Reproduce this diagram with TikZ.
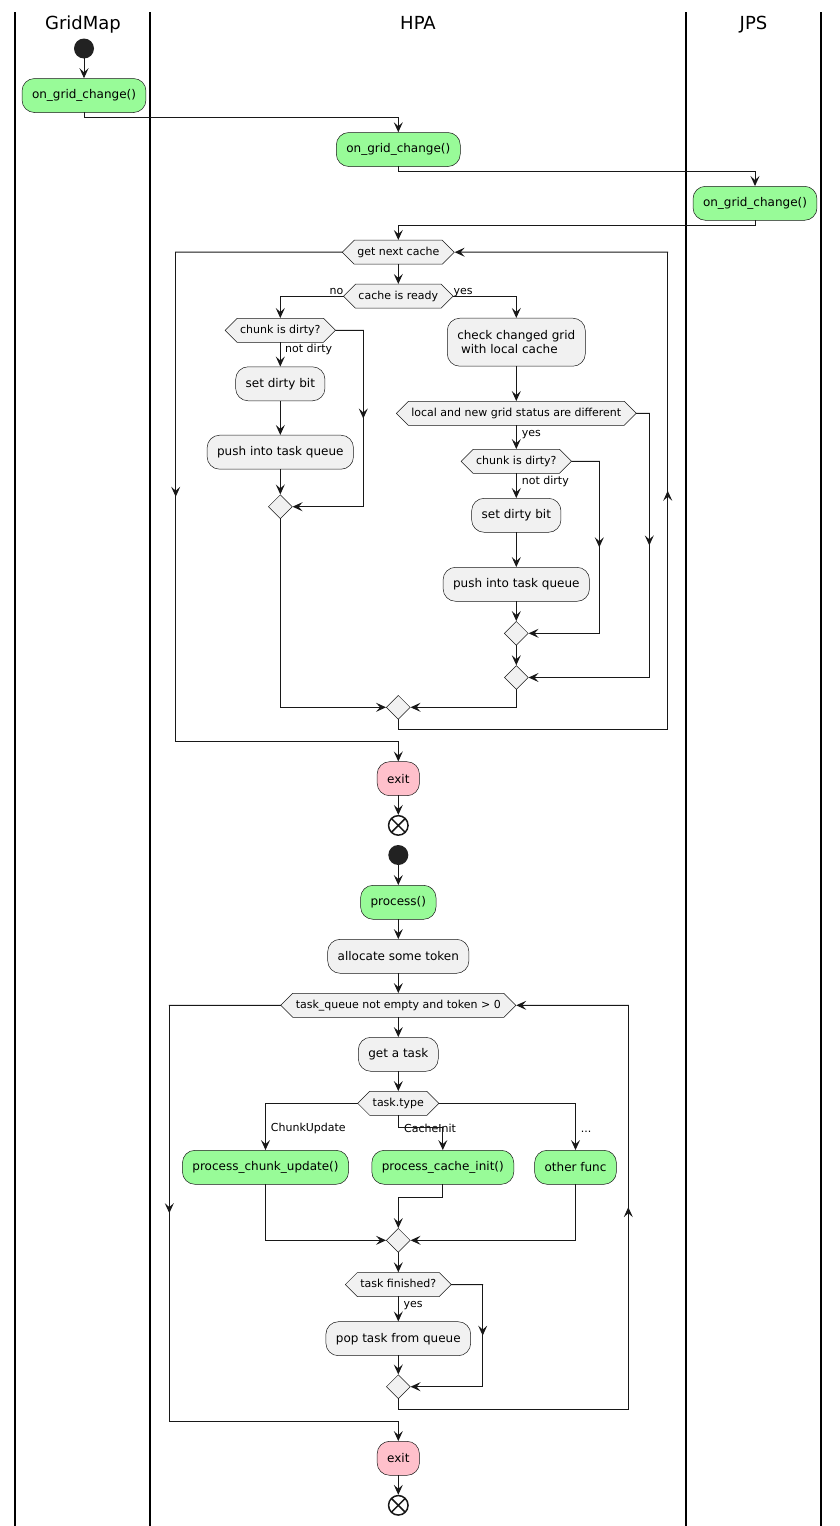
\documentclass[tikz,border=0pt]{standalone}
\usepackage{fontspec}
\setmainfont{DejaVu Sans}
\usetikzlibrary{arrows.meta,shapes.geometric,shapes.symbols,decorations.markings}
\definecolor{lc}{HTML}{181818}
\definecolor{actfill}{HTML}{F1F1F1}
\definecolor{callfill}{HTML}{98FB98}
\definecolor{exitfill}{HTML}{FFC0CB}
\definecolor{dotc}{HTML}{222222}
\begin{document}
\begin{tikzpicture}[x=1pt,y=-1pt,
  >={Stealth[length=10pt,width=9pt,inset=4pt]},
  wire/.style={color=lc, line width=1pt, line cap=rect},
  flow/.style={wire, ->},
  midarrow/.style={postaction={decorate,decoration={markings,mark=at position 0.5 with {\arrow{>}}}}},
  act/.style={draw=lc, line width=0.5pt, fill=actfill, rounded corners=12.5pt,
    minimum height=34pt, inner xsep=10pt, inner ysep=0pt, text=black,
    font=\fontsize{12}{14}\selectfont},
  call/.style={act, fill=callfill},
  quit/.style={act, fill=exitfill},
  hex/.style={shape=signal, signal to=east and west, signal pointer angle=90,
    draw=lc, line width=0.5pt, fill=actfill, inner xsep=3pt, inner ysep=6.5pt,
    text height=8.5pt, text depth=2.5pt, minimum height=24pt, text=black,
    font=\fontsize{11}{13}\selectfont},
  merge/.style={diamond, draw=lc, line width=0.5pt, fill=actfill, aspect=1,
    minimum width=24pt, minimum height=24pt, inner sep=0pt},
  startdot/.style={circle, fill=dotc, minimum size=20pt, inner sep=0pt},
  stopx/.style={circle, draw=lc, line width=1.5pt, fill=white, minimum size=19.5pt, inner sep=0pt,
    path picture={\draw[lc, line width=1.5pt]
      (path picture bounding box.north west) -- (path picture bounding box.south east)
      (path picture bounding box.north east) -- (path picture bounding box.south west);}},
  lbl/.style={font=\fontsize{11}{13}\selectfont, inner sep=0pt, text=black},
  lane/.style={font=\fontsize{18}{21}\selectfont, inner sep=0pt, anchor=base, text=black},
  laneline/.style={draw=black, line width=1.5pt}
]
% page
\fill[white] (0,0) rectangle (840,1526);
\useasboundingbox (0,0) rectangle (840,1526);

% swimlanes
\draw[laneline] (15,12) -- (15,1526);
\draw[laneline] (150,12) -- (150,1526);
\draw[laneline] (686,12) -- (686,1526);
\draw[laneline] (821,12) -- (821,1526);
\node[lane] (tgm) at (83,29.3) {GridMap};
\node[lane] (thpa) at (418,29.3) {HPA};
\node[lane] (tjps) at (753.5,29.3) {JPS};

% ---------- grid change propagation ----------
\node[startdot] (s1) at (84,48.5) {};
\node[call] (gm) at (84,95.5) {on\_grid\_change()};
\node[call] (hpa1) at (398.3,149.5) {on\_grid\_change()};
\node[call] (jps) at (755,203.3) {on\_grid\_change()};

\node[hex] (gnc) at (398.3,252.2) {get next cache};
\node[hex] (cir) at (398.3,296.2) {cache is ready};

% cache not ready
\node[hex] (cd1) at (280.3,330.3) {chunk is dirty?};
\node[act] (sdb1) at (280.3,383.8) {set dirty bit};
\node[act] (ptq1) at (280.3,452.2) {push into task queue};
\node[merge] (m1) at (280.3,506.7) {};

% cache ready
\node[act, minimum height=48pt, align=left] (chk) at (516.3,342.2)
  {check changed grid\\\hspace*{3.8pt}with local cache};
\node[hex] (loc) at (516.3,413.3) {local and new grid status are different};
\node[hex] (cd2) at (516.3,461.3) {chunk is dirty?};
\node[act] (sdb2) at (516.3,515.3) {set dirty bit};
\node[act] (ptq2) at (516.3,584.3) {push into task queue};
\node[merge] (m2) at (516.3,633.3) {};
\node[merge] (m3) at (516.3,677.5) {};

\node[merge] (mA) at (398.3,707.3) {};
\node[quit] (exit1) at (398.3,778.7) {exit};
\node[stopx] (end1) at (398.3,825.4) {};

% branch labels
\node[lbl, anchor=base east] (lno) at (343.5,294.3) {no};
\node[lbl, anchor=base west] (lyes1) at (453.5,294.3) {yes};
\node[lbl, anchor=base west] (lnd1) at (285,352.8) {not dirty};
\node[lbl, anchor=base west] (lyes2) at (521.7,436.5) {yes};
\node[lbl, anchor=base west] (lnd2) at (521.7,484.2) {not dirty};

% connectors
\draw[flow] (s1) -- (gm.north);
\draw[flow] (gm.south) -- ++(0,4.6) -| (hpa1.north);
\draw[flow] (hpa1.south) -- ++(0,4.6) -| (jps.north);
\draw[flow] (jps.south) -- ++(0,4.6) -| (gnc.north);
\draw[flow] (gnc.south) -- (cir.north);
\draw[flow] (cir.180) -| (cd1.north);
\draw[flow] (cir.0) -| (chk.north);
\draw[flow] (cd1.south) -- (sdb1.north);
\draw[flow] (sdb1.south) -- (ptq1.north);
\draw[flow] (ptq1.south) -- (m1.north);
\coordinate (K1a) at (363.3,330.3);
\coordinate (K1b) at (363.3,506.7);
\draw[wire] (cd1.0) -- (K1a);
\draw[wire, midarrow] (K1a) -- (K1b);
\draw[flow] (K1b) -- (m1.0);
\draw[flow] (m1.south) |- (mA.180);

\draw[flow] (chk.south) -- (loc.north);
\draw[flow] (loc.south) -- (cd2.north);
\draw[flow] (cd2.south) -- (sdb2.north);
\draw[flow] (sdb2.south) -- (ptq2.north);
\draw[flow] (ptq2.south) -- (m2.north);
\draw[flow] (m2.south) -- (m3.north);
\coordinate (K2a) at (599.3,461.3);
\coordinate (K2b) at (599.3,633.3);
\draw[wire] (cd2.0) -- (K2a);
\draw[wire, midarrow] (K2a) -- (K2b);
\draw[flow] (K2b) -- (m2.0);
\coordinate (K3a) at (649.3,413.3);
\coordinate (K3b) at (649.3,677.5);
\draw[wire] (loc.0) -- (K3a);
\draw[wire, midarrow] (K3a) -- (K3b);
\draw[flow] (K3b) -- (m3.0);
\draw[flow] (m3.south) |- (mA.0);

% loop back and loop exit
\coordinate (R1a) at (667.7,729.3);
\coordinate (R1b) at (667.7,252.2);
\draw[wire] (mA.south) |- (R1a);
\draw[wire, midarrow] (R1a) -- (R1b);
\draw[flow] (R1b) -- (gnc.0);
\coordinate (L1a) at (175.7,252.2);
\coordinate (L1b) at (175.7,741.3);
\draw[wire] (gnc.180) -- (L1a);
\draw[wire, midarrow] (L1a) -- (L1b);
\draw[flow] (L1b) -| (exit1.north);
\draw[flow] (exit1.south) -- (end1.north);

% ---------- task processing ----------
\node[startdot] (s2) at (398.3,855) {};
\node[call] (proc) at (398.3,902.3) {process()};
\node[act] (alloc) at (398.3,956.3) {allocate some token};
\node[hex] (tq) at (398.3,1005.3) {task\_queue not empty and token > 0};
\node[act] (gat) at (398.3,1054.3) {get a task};
\node[hex] (tt) at (398.3,1103.3) {task.type};
\node[call] (pcu) at (265.5,1167.3) {process\_chunk\_update()};
\node[call] (pci) at (442.8,1167.3) {process\_cache\_init()};
\node[call] (of) at (575.5,1167.3) {other func};
\node[merge] (mB) at (398.3,1240.3) {};
\node[hex] (tf) at (398.3,1284.5) {task finished?};
\node[act] (pop) at (398.3,1338.7) {pop task from queue};
\node[merge] (mC) at (398.3,1386.7) {};
\node[quit] (exit2) at (398.3,1458.3) {exit};
\node[stopx] (end2) at (398.3,1505.3) {};

\node[lbl, anchor=base west] (lcu) at (270.7,1131.5) {ChunkUpdate};
\node[lbl, anchor=base west] (lci) at (404,1132.3) {CacheInit};
\node[lbl, anchor=base west] (ldots) at (580.7,1132) {...};
\node[lbl, anchor=base west] (lyes3) at (403.3,1307.5) {yes};

\draw[flow] (s2) -- (proc.north);
\draw[flow] (proc.south) -- (alloc.north);
\draw[flow] (alloc.south) -- (tq.north);
\draw[flow] (tq.south) -- (gat.north);
\draw[flow] (gat.south) -- (tt.north);
\draw[flow] (tt.180) -| (pcu.north);
\draw[flow] (tt.south) -- ++(0,12) -| (pci.north);
\draw[flow] (tt.0) -| (of.north);
\draw[flow] (pcu.south) |- (mB.180);
\draw[flow] (pci.south) -- ++(0,12.7) -| (mB.north);
\draw[flow] (of.south) |- (mB.0);
\draw[flow] (mB.south) -- (tf.north);
\draw[flow] (tf.south) -- (pop.north);
\draw[flow] (pop.south) -- (mC.north);
\coordinate (K4a) at (482.7,1284.5);
\coordinate (K4b) at (482.7,1386.7);
\draw[wire] (tf.0) -- (K4a);
\draw[wire, midarrow] (K4a) -- (K4b);
\draw[flow] (K4b) -- (mC.0);

\coordinate (R2a) at (628.3,1409);
\coordinate (R2b) at (628.3,1005.3);
\draw[wire] (mC.south) |- (R2a);
\draw[wire, midarrow] (R2a) -- (R2b);
\draw[flow] (R2b) -- (tq.0);
\coordinate (L2a) at (169.3,1005.3);
\coordinate (L2b) at (169.3,1421);
\draw[wire] (tq.180) -- (L2a);
\draw[wire, midarrow] (L2a) -- (L2b);
\draw[flow] (L2b) -| (exit2.north);
\draw[flow] (exit2.south) -- (end2.north);
\end{tikzpicture}
\end{document}
